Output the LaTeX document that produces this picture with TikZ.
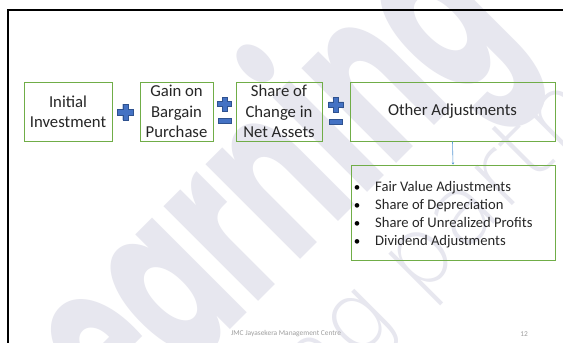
\documentclass[tikz,border=0pt]{standalone}
\usepackage{fontspec}
\setmainfont{Carlito}
\newfontfamily\wmfont{Poppins}
\newfontfamily\wmthin{DejaVu Sans ExtraLight}
\usetikzlibrary{arrows.meta}
\definecolor{grn}{HTML}{70AD47}
\definecolor{pblue}{HTML}{4472C4}
\definecolor{pedge}{HTML}{2F528F}
\definecolor{wm}{HTML}{E7E7EF}
\definecolor{lnk}{HTML}{5B9BD5}
\definecolor{txt}{HTML}{262626}
\tikzset{
  box/.style={draw=grn, line width=1pt, inner sep=0pt, align=center, text=txt,
    minimum height=59, font=\fontsize{16.7}{20.4}\selectfont},
  item/.style={anchor=base west, inner sep=0pt, text=txt, font=\fontsize{14.6}{17.8}\selectfont},
  bul/.style={anchor=base, inner sep=0pt, font=\fontsize{13}{16}\selectfont},
  plussign/.pic={\fill[pblue, draw=pedge, line width=0.4pt]
    (-1,-.35) -- (-.35,-.35) -- (-.35,-1) -- (.35,-1) -- (.35,-.35) -- (1,-.35)
    -- (1,.35) -- (.35,.35) -- (.35,1) -- (-.35,1) -- (-.35,.35) -- (-1,.35) -- cycle;},
  minussign/.pic={\fill[pblue, draw=pedge, line width=0.4pt] (-1,-.4) rectangle (1,.4);},
  foot/.style={text=black!38, font=\fontsize{7.4}{9}\selectfont, inner sep=0pt}
}
\begin{document}
\begin{tikzpicture}[x=1pt, y=-1pt]
\useasboundingbox (0,0) rectangle (563,343);
\fill[white] (0,0) rectangle (563,343);
% watermark
\node[rotate=45, xscale=0.58, anchor=base, text=wm, inner sep=0pt,
  font=\wmfont\bfseries\fontsize{240}{240}\selectfont] (wm1) at (301,259) {Learning};
\node[rotate=45, anchor=base, text=wm, inner sep=0pt,
  font=\wmthin\fontsize{97}{97}\selectfont] (wm2) at (493,225) {ng partner};
% frame
\draw[line width=1.5pt] (563,10) -- (8,10) -- (8,343);
% boxes
\node[box, minimum width=88] (b1) at (68,111.5) {Initial\\Investment};
\node[box, minimum width=73] (b2) at (176.5,111.5) {Gain on\\Bargain\\Purchase};
\node[box, minimum width=86] (b3) at (279,111.5) {Share of\\Change in\\Net Assets};
\node[box, minimum width=205] (b4) at (452.5,111.5) {Other Adjustments};
\node[box, minimum width=204, minimum height=95] (b5) at (453,212.5) {};
% signs
\pic[scale=8] at (125.5,112) {plussign};
\pic[scale=7] at (224.5,104) {plussign};
\pic[scale=6.5] at (224.5,120.5) {minussign};
\pic[scale=7.5] at (336,104.5) {plussign};
\pic[scale=6.5] at (335.5,121.5) {minussign};
% connector
\draw[lnk, line width=0.6pt, -{Stealth[length=2pt,width=2.5pt]}] (b4.south) -- (b5.north);
% list
\node[bul] (u1) at (357,191.5) {\textbullet};
\node[bul] (u2) at (357,209.5) {\textbullet};
\node[bul] (u3) at (357,227.5) {\textbullet};
\node[bul] (u4) at (357,245.5) {\textbullet};
\node[item] (l1) at (375,191.5) {Fair Value Adjustments};
\node[item] (l2) at (375,209.5) {Share of Depreciation};
\node[item] (l3) at (375,227.5) {Share of Unrealized Profits};
\node[item] (l4) at (375,245.5) {Dividend Adjustments};
% footer
\node[foot] (f1) at (286,334) {JMC Jayasekera Management Centre};
\node[foot] (f2) at (524,334) {12};
\end{tikzpicture}
\end{document}
